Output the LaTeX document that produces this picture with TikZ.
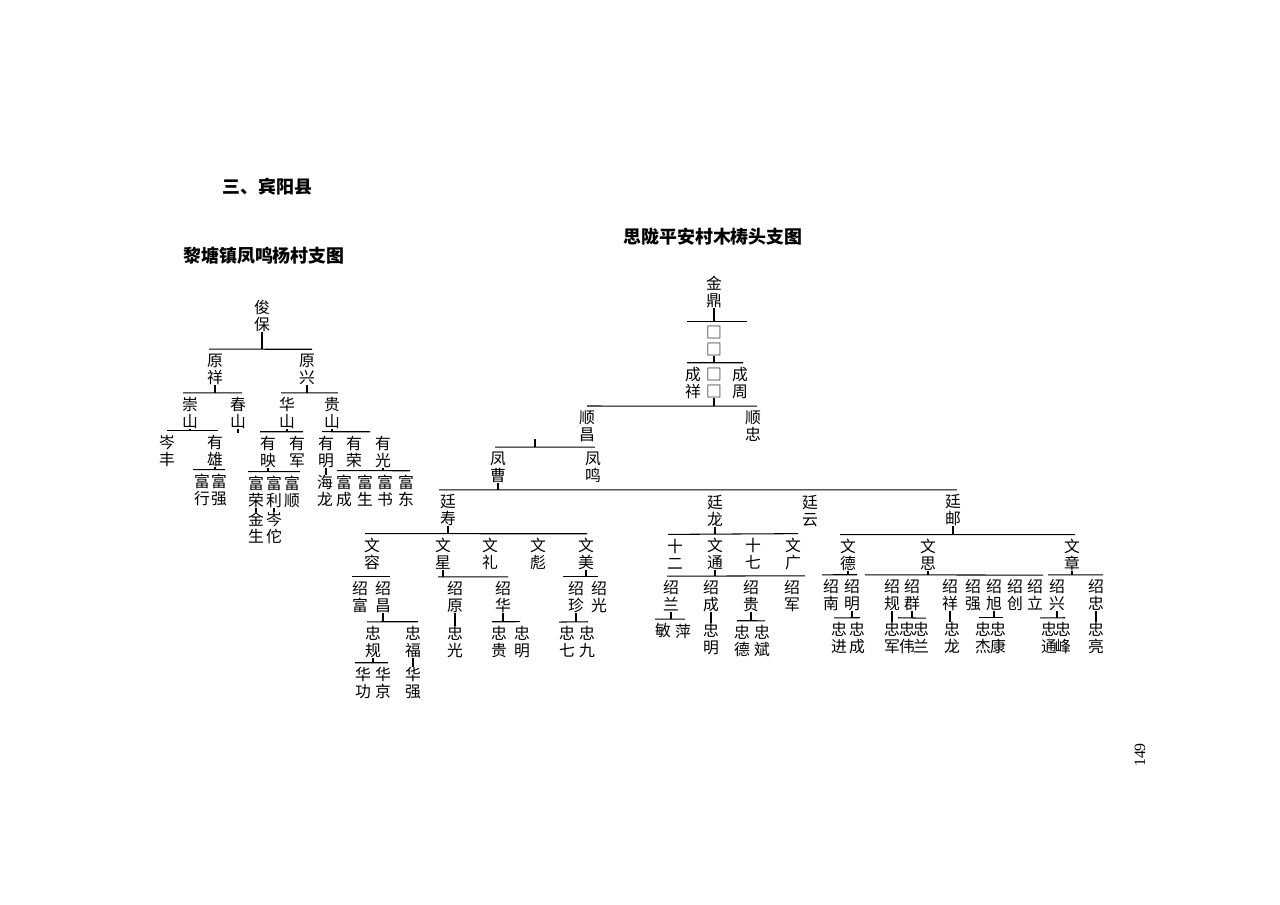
\documentclass[tikz,border=0pt]{standalone}
\usepackage{fontspec}
\setmainfont{Noto Sans CJK SC}
\newfontfamily\pagefont{Liberation Serif}
\usetikzlibrary{calc}

% bar over a row of children, and the stem down from the parent
\newcommand\sibs[4]{%
  \coordinate (barL) at ($(#1.north)-(#3,4)$);
  \coordinate (barR) at ($(#2.north)+(#4,-4)$);
  \draw (barL) -- (barR);}
\newcommand\fork[5]{%
  \sibs{#2}{#3}{#4}{#5}
  \draw (#1.south) -- (#1.south |- barL);}
% single line of descent
\newcommand\link[2]{\draw (#1.south) -- (#1.south |- #2.north);}

\begin{document}
\begin{tikzpicture}[
    x=0.02cm, y=-0.02cm,
    member/.style={inner sep=0pt, align=center, font=\fontsize{9}{9.6}\selectfont},
    heading/.style={inner sep=0pt, font=\fontsize{10.2}{12}\selectfont\bfseries},
    line width=0.6pt
]
    \useasboundingbox (0,0) rectangle (1280,905);

    % Titles
    \node[heading, anchor=west] (county) at (222,187) {三、宾阳县};
    \node[heading] (lefttitle) at (264,256) {黎塘镇凤鸣杨村支图};
    \node[heading] (righttitle) at (713,237) {思陇平安村木梼头支图};
    \node[rotate=90, font=\pagefont\fontsize{9}{10}\selectfont] (pagenum) at (1140,755) {149};

    % Left tree
    \node[member] (junbao) at (262,316) {俊\\保};
    \node[member] (yuanxiang) at (215,369) {原\\祥};
    \node[member] (yuanxing) at (307,369) {原\\兴};
    \node[member] (chongshan) at (190,413) {崇\\山};
    \node[member] (chunshan) at (238,413) {春\\山};
    \node[member] (huashan) at (287,413) {华\\山};
    \node[member] (guishan) at (332,413) {贵\\山};
    \node[member] (cenfeng) at (167,451) {岑\\丰};
    \node[member] (youxiong) at (215,451) {有\\雄};
    \node[member] (youying) at (268,452) {有\\映};
    \node[member] (youjun) at (297,452) {有\\军};
    \node[member] (youming) at (326,452) {有\\明};
    \node[member] (yourong) at (354,452) {有\\荣};
    \node[member] (youguang) at (383,452) {有\\光};
    \node[member] (fuxing) at (202,490) {富\\行};
    \node[member] (fuqiang) at (219,490) {富\\强};
    \node[member] (furong) at (256,492) {富\\荣};
    \node[member] (fuli) at (274,492) {富\\利};
    \node[member] (fushun) at (292,492) {富\\顺};
    \node[member] (hailong) at (325,491) {海\\龙};
    \node[member] (fucheng) at (344,491) {富\\成};
    \node[member] (fusheng) at (365,491) {富\\生};
    \node[member] (fushu) at (385,491) {富\\书};
    \node[member] (fudong) at (406,491) {富\\东};
    \node[member] (jinsheng) at (256,528) {金\\生};
    \node[member] (centuo) at (274,528) {岑\\佗};

    \fork{junbao}{yuanxiang}{yuanxing}{6}{5}
    \fork{yuanxiang}{chongshan}{chunshan}{7}{4}
    \fork{yuanxing}{huashan}{guishan}{6}{6}
    \fork{chongshan}{cenfeng}{youxiong}{0}{3}
    \draw (chunshan.south) -- ++(0,4);
    \fork{youxiong}{fuxing}{fuqiang}{9}{6}
    \fork{huashan}{youying}{youjun}{8}{6}
    \fork{guishan}{youming}{yourong}{4}{16}
    \fork{youying}{furong}{fushun}{8}{8}
    \fork{youguang}{fucheng}{fudong}{7}{4}
    \link{furong}{jinsheng}
    \link{fuli}{centuo}
    \link{youming}{hailong}

    % Right tree
    \node[member] (jinding) at (714,292) {金\\鼎};
    \node[member] (boxa) at (714,341) {□\\□};
    \node[member] (chengxiang) at (693,383) {成\\祥};
    \node[member] (boxb) at (714,383) {□\\□};
    \node[member] (chengzhou) at (740,383) {成\\周};
    \node[member] (shunchang) at (587,426) {顺\\昌};
    \node[member] (shunzhong) at (753,426) {顺\\忠};
    \node[member] (fengcao) at (498,467) {凤\\曹};
    \node[member] (fengming) at (593,467) {凤\\鸣};
    \node[member] (tingshou) at (448,510) {廷\\寿};
    \node[member] (tinglong) at (715,511) {廷\\龙};
    \node[member] (tingyun) at (810,511) {廷\\云};
    \node[member] (tingyou) at (953,510) {廷\\邮};

    % Tingshou branch
    \node[member] (wenrong) at (372,554) {文\\容};
    \node[member] (wenxing) at (443,554) {文\\星};
    \node[member] (wenli) at (490,554) {文\\礼};
    \node[member] (wenbiao) at (538,554) {文\\彪};
    \node[member] (wenmei) at (586,554) {文\\美};
    \node[member] (shaofu) at (360,597) {绍\\富};
    \node[member] (shaochang) at (383,597) {绍\\昌};
    \node[member] (shaoyuan) at (455,597) {绍\\原};
    \node[member] (shaohua) at (503,597) {绍\\华};
    \node[member] (shaozhen) at (576,597) {绍\\珍};
    \node[member] (shaoguang) at (599,597) {绍\\光};
    \node[member] (zhonggui) at (373,642) {忠\\规};
    \node[member] (zhongfu) at (413,642) {忠\\福};
    \node[member] (zhongguang) at (455,642) {忠\\光};
    \node[member] (zhonggui2) at (499,642) {忠\\贵};
    \node[member] (zhongming) at (522,642) {忠\\明};
    \node[member] (zhongqi) at (567,642) {忠\\七};
    \node[member] (zhongjiu) at (587,642) {忠\\九};
    \node[member] (huagong) at (363,683) {华\\功};
    \node[member] (huajing) at (383,683) {华\\京};
    \node[member] (huaqiang) at (413,683) {华\\强};

    % Tinglong branch
    \node[member] (shier) at (675,554) {十\\二};
    \node[member] (wentong) at (715,554) {文\\通};
    \node[member] (shiqi) at (753,554) {十\\七};
    \node[member] (wenguang) at (793,554) {文\\广};
    \node[member] (shaolan) at (671,596) {绍\\兰};
    \node[member] (shaocheng) at (711,596) {绍\\成};
    \node[member] (shaogui) at (751,596) {绍\\贵};
    \node[member] (shaojun) at (792,596) {绍\\军};
    \node[member] (min) at (663,631) {敏};
    \node[member] (ping) at (683,631) {萍};
    \node[member] (zhongming2) at (711,639) {忠\\明};
    \node[member] (zhongde) at (742,641) {忠\\德};
    \node[member] (zhongbin) at (762,641) {忠\\斌};

    % Tingyou branch
    \node[member] (wende) at (848,555) {文\\德};
    \node[member] (wensi) at (928,555) {文\\思};
    \node[member] (wenzhang) at (1072,555) {文\\章};
    \node[member] (shaonan) at (831,595) {绍\\南};
    \node[member] (shaoming) at (852,595) {绍\\明};
    \node[member] (shaogui2) at (892,595) {绍\\规};
    \node[member] (shaoqun) at (912,595) {绍\\群};
    \node[member] (shaoxiang) at (950,595) {绍\\祥};
    \node[member] (shaoqiang) at (973,595) {绍\\强};
    \node[member] (shaoxu) at (994,595) {绍\\旭};
    \node[member] (shaochuang) at (1015,595) {绍\\创};
    \node[member] (shaoli) at (1035,595) {绍\\立};
    \node[member] (shaoxing) at (1057,595) {绍\\兴};
    \node[member] (shaozhong) at (1096,595) {绍\\忠};
    \node[member] (zhongjin) at (839,638) {忠\\进};
    \node[member] (zhongcheng) at (857,638) {忠\\成};
    \node[member] (zhongjun) at (892,638) {忠\\军};
    \node[member] (zhongwei) at (907,638) {忠\\伟};
    \node[member] (zhonglan) at (921,638) {忠\\兰};
    \node[member] (zhonglong) at (952,638) {忠\\龙};
    \node[member] (zhongjie) at (983,638) {忠\\杰};
    \node[member] (zhongkang) at (998,638) {忠\\康};
    \node[member] (zhongtong) at (1049,638) {忠\\通};
    \node[member] (zhongfeng) at (1063,638) {忠\\峰};
    \node[member] (zhongliang) at (1096,638) {忠\\亮};

    % Connections
    \fork{jinding}{boxa}{boxa}{27}{33}
    \fork{boxa}{chengxiang}{chengzhou}{6}{3}
    \fork{boxb}{shunchang}{shunzhong}{0}{4}
    \sibs{fengcao}{fengming}{3}{2}
    \draw ($(barL)!0.4!(barR)$) -- ++(0,-8);
    \fork{fengcao}{tingshou}{tingyou}{9}{4}
    \fork{tingshou}{wenrong}{wenmei}{7}{1}
    \sibs{shaofu}{shaochang}{8}{7}
    \fork{shaochang}{zhonggui}{zhongfu}{6}{5}
    \fork{zhonggui}{huagong}{huajing}{8}{5}
    \link{zhongfu}{huaqiang}
    \fork{wenxing}{shaoyuan}{shaohua}{17}{5}
    \link{shaoyuan}{zhongguang}
    \fork{shaohua}{zhonggui2}{zhongming}{7}{-2}
    \fork{wenmei}{shaozhen}{shaoguang}{13}{-1}
    \fork{shaozhen}{zhongqi}{zhongjiu}{8}{1}
    \fork{tinglong}{shier}{wenguang}{7}{5}
    \fork{wentong}{shaolan}{shaojun}{4}{13}
    \fork{shaolan}{min}{ping}{8}{2}
    \link{shaocheng}{zhongming2}
    \fork{shaogui}{zhongde}{zhongbin}{5}{3}
    \fork{tingyou}{wende}{wenzhang}{8}{3}
    \fork{wende}{shaonan}{shaoming}{9}{5}
    \fork{shaoming}{zhongjin}{zhongcheng}{5}{3}
    \fork{wensi}{shaogui2}{shaoli}{27}{8}
    \link{shaogui2}{zhongjun}
    \fork{shaoqun}{zhongwei}{zhonglan}{9}{5}
    \link{shaoxiang}{zhonglong}
    \fork{shaoxu}{zhongjie}{zhongkang}{4}{5}
    \fork{wenzhang}{shaoxing}{shaozhong}{9}{7}
    \fork{shaoxing}{zhongtong}{zhongfeng}{9}{2}
    \link{shaozhong}{zhongliang}

\end{tikzpicture}
\end{document}
